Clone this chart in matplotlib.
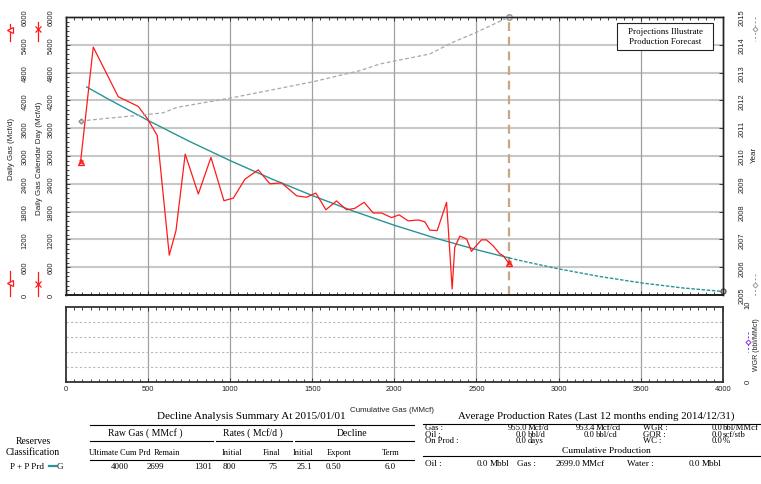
import matplotlib
matplotlib.use("Agg")
import matplotlib.pyplot as plt
import matplotlib.transforms as mtransforms
from matplotlib.lines import Line2D
from matplotlib.patches import Rectangle
from matplotlib.ticker import MultipleLocator

# ---------------- data ----------------
# Daily gas rate history against cumulative gas
cum_gas = [89, 166, 318, 440, 497, 556, 629, 670, 726, 806, 883, 962, 1019, 1090,
           1171, 1242, 1313, 1405, 1465, 1522, 1583, 1648, 1709, 1759, 1816, 1871,
           1922, 1983, 2029, 2084, 2145, 2186, 2216, 2261, 2318, 2334, 2352, 2368,
           2399, 2440, 2470, 2490, 2531, 2561, 2602, 2642, 2662, 2699]
daily_gas = [2880, 5350, 4280, 4070, 3800, 3440, 860, 1390, 3040, 2180, 2970, 2035,
             2090, 2500, 2700, 2400, 2420, 2140, 2110, 2200, 1840, 2030, 1840, 1870,
             2000, 1770, 1770, 1670, 1730, 1600, 1620, 1580, 1400, 1390, 2000, 1140,
             130, 1030, 1270, 1210, 940, 1030, 1190, 1190, 1060, 890, 850, 680]

# Hyperbolic decline: fitted history and forecast to the economic limit
fit_cum = [126, 250, 500, 750, 1000, 1250, 1500, 1750, 2000, 2250, 2500, 2699]
fit_rate = [4490, 4243, 3767, 3319, 2900, 2509, 2146, 1811, 1505, 1228, 978, 800]
fcst_cum = [2699, 2750, 3000, 3250, 3500, 3750, 4000]
fcst_rate = [800, 757, 564, 400, 263, 155, 76]

# Production date against cumulative gas
date_cum = [89, 590, 676, 998, 1504, 1790, 1912, 2216, 2356, 2500, 2699]
date_year = [2011.26, 2011.55, 2011.75, 2012.08, 2012.67, 2013.07, 2013.31,
             2013.67, 2014.09, 2014.45, 2015.0]

forecast_start = 2699

rate_ticks = [0, 600, 1200, 1800, 2400, 3000, 3600, 4200, 4800, 5400, 6000]
year_ticks = [2005, 2006, 2007, 2008, 2009, 2010, 2011, 2012, 2013, 2014, 2015]
cum_ticks = [0, 500, 1000, 1500, 2000, 2500, 3000, 3500, 4000]

# Decline summary table
summary_title = "Decline Analysis Summary At 2015/01/01"
summary_groups = ["Raw Gas ( MMcf )", "Rates ( Mcf/d )", "Decline"]
summary_cols = ["Ultimate", "Cum Prd", "Remain", "Initial", "Final", "Initial", "Expont", "Term"]
summary_vals = ["4000", "2699", "1301", "800", "75", "25.1", "0.50", "6.0"]

# Average rate table
avg_title = "Average Production Rates (Last 12 months ending 2014/12/31)"
avg_rows = [
    ("Gas :", "955.0", "Mcf/d", "953.4", "Mcf/cd", "WGR :", "0.0", "bbl/MMcf"),
    ("Oil :", "0.0", "bbl/d", "0.0", "bbl/cd", "GOR :", "0.0", "scf/stb"),
    ("On Prod :", "0.0", "days", "", "", "WC :", "0.0", "%"),
]
cum_prod = [("Oil :", "0.0", "Mbbl"), ("Gas :", "2699.0", "MMcf"), ("Water :", "0.0", "Mbbl")]

# ---------------- figure ----------------
W, H = 761, 485
SANS = "Liberation Sans"
SERIF = "Liberation Serif"
RED = "#ff1a1a"
TEAL = "#2a9494"
GRAY = "#a8a8a8"

fig = plt.figure(figsize=(W / 100, H / 100), dpi=100)
fig.patch.set_facecolor("white")


def fx(x):
    return x / W


def fy(y):
    return 1 - y / H


def fig_line(xs, ys, **kw):
    fig.add_artist(Line2D([fx(x) for x in xs], [fy(y) for y in ys],
                          transform=fig.transFigure, **kw))


def fig_text(x, y, s, **kw):
    fig.text(fx(x), fy(y), s, **kw)


L, R = 66, 722.7
ax = fig.add_axes([fx(L), fy(296), (R - L) / W, (296 - 18) / H])
ax.set_xlim(0, 4000)
ax.set_ylim(0, 6000)
ax2 = ax.twinx()
ax2.set_ylim(2005, 2015)

# grid of the rate panel
for v in rate_ticks[1:-1]:
    ax.axhline(v, color="#c8c8c8", lw=1.5, zorder=0)
for v in cum_ticks[1:-1]:
    ax.axvline(v, color="#a0a0a0", lw=0.9, zorder=0)

# decline curve
ax.plot(fit_cum, fit_rate, color=TEAL, lw=1.0, zorder=3)
ax.plot(fcst_cum, fcst_rate, color=TEAL, lw=1.0, ls=(0, (2.5, 1.2)), zorder=3)
ax.plot([fcst_cum[-1]], [fcst_rate[-1]], marker="o", ms=3.5, mfc="none",
        mec="#555555", ls="none", clip_on=False, zorder=5)

# rate history
ax.plot(cum_gas, daily_gas, color=RED, lw=0.9, zorder=4)
for i in (0, -1):
    ax.plot([cum_gas[i]], [daily_gas[i]], marker="^", ms=5, mfc="none", mec=RED,
            mew=0.9, ls="none", zorder=5)
    ax.plot([cum_gas[i]], [daily_gas[i]], marker="x", ms=3.5, mec=RED,
            mew=0.8, ls="none", zorder=5)

# forecast start
ax.axvline(forecast_start, color="#c8a882", lw=1.6, ls=(0, (4, 2.6)), zorder=2)

# date line on the year axis
ax2.plot(date_cum, date_year, color=GRAY, lw=0.9, ls=(0, (3, 2)), zorder=3)
ax2.plot([date_cum[0]], [date_year[0]], marker="D", ms=2.5, mfc="none", mec="#888888",
         ls="none")
ax2.plot([date_cum[-1]], [date_year[-1]], marker="o", ms=4, mfc="#d0d0d0", mec="#999999",
         ls="none", clip_on=False)

# ticks and spines
ax.xaxis.set_major_locator(MultipleLocator(500))
ax.xaxis.set_minor_locator(MultipleLocator(50))
ax.yaxis.set_major_locator(MultipleLocator(600))
ax.yaxis.set_minor_locator(MultipleLocator(100))
ax.tick_params(axis="both", which="both", direction="in", top=True, bottom=True,
               left=True, right=False, labelbottom=False, labelleft=False,
               color="#222222", width=0.6)
ax.tick_params(which="major", length=3)
ax.tick_params(which="minor", length=2)
ax2.yaxis.set_major_locator(MultipleLocator(1))
ax2.tick_params(axis="y", which="both", direction="in", right=True, labelright=False,
                length=3, width=0.6, color="#222222")
for a in (ax, ax2):
    for s in a.spines.values():
        s.set_color("#222222")
        s.set_linewidth(1.0)
    a.spines["bottom"].set_linewidth(1.3)

# left rate labels (two scales) and axis titles
tl = mtransforms.blended_transform_factory(fig.transFigure, ax.transData)
for v in rate_ticks:
    for xp in (25, 51):
        ax.text(fx(xp), v, str(v), transform=tl, rotation=90, ha="center", va="center",
                fontsize=5.4, family=SANS, color="#222222")
fig_text(12, 149, "Daily Gas (Mcf/d)", rotation=90, ha="center", va="center",
         fontsize=5.8, family=SANS, color="#222222")
fig_text(39.5, 158, "Daily Gas Calendar Day (Mcf/d)", rotation=90, ha="center",
         va="center", fontsize=5.8, family=SANS, color="#222222")

# series keys beside the scales
for ytop, ybot, ym in ((25, 42, 31), (272, 297, 284)):
    fig_line([10, 10], [ytop, ybot], color=RED, lw=0.9)
    fig_line([10], [ym], marker="<", ms=4, mfc="white", mec=RED, mew=0.9, ls="none")
for ytop, ybot, ym in ((23, 42, 30), (273, 297, 285)):
    fig_line([38, 38], [ytop, ybot], color=RED, lw=0.9)
    fig_line([38], [ym], marker="x", ms=4, mec=RED, mew=0.9, ls="none")

# right year labels
tr = mtransforms.blended_transform_factory(fig.transFigure, ax2.transData)
for y in year_ticks:
    ax2.text(fx(741.7), y, str(y), transform=tr, rotation=90, ha="center", va="center",
             fontsize=5.4, family=SANS, color="#222222")
fig_text(754.5, 155, "Year", rotation=90, ha="center", va="center", fontsize=5.8,
         family=SANS, color="#222222")
for ytop, ybot, ym in ((18, 42, 30), (275, 297, 286)):
    fig_line([755, 755], [ytop, ybot], color="#999999", lw=0.7, ls=(0, (2, 2)))
    fig_line([755], [ym], marker="D", ms=2.5, mfc="white", mec="#999999", mew=0.7,
             ls="none")

# annotation box
fig.add_artist(Rectangle((fx(617), fy(50.7)), (713 - 617) / W, (50.7 - 24) / H,
                         transform=fig.transFigure, facecolor="white",
                         edgecolor="#222222", lw=0.8, zorder=3))
fig_text(665, 31.5, "Projections Illustrate", ha="center", va="center", fontsize=6.4,
         family=SERIF, zorder=4)
fig_text(665, 42.5, "Production Forecast", ha="center", va="center", fontsize=6.4,
         family=SERIF, zorder=4)

# ---------------- ratio panel ----------------
axl = fig.add_axes([fx(L), fy(383), (R - L) / W, (383 - 308) / H])
axl.set_xlim(0, 4000)
axl.set_ylim(0, 10)
for v in cum_ticks[1:-1]:
    axl.axvline(v, color="#a0a0a0", lw=0.9, zorder=0)
for v in (2, 4, 6, 8):
    axl.axhline(v, color="#b8b8b8", lw=0.8, ls=(0, (2, 2)), zorder=0)
axl.set_xticks(cum_ticks)
axl.set_xticklabels([str(v) for v in cum_ticks], fontsize=5.4, family=SANS,
                    color="#222222")
axl.xaxis.set_minor_locator(MultipleLocator(50))
axl.set_yticks([])
axl.tick_params(axis="x", which="both", direction="in", top=True, bottom=True,
                color="#222222", width=0.6, pad=2.5)
axl.tick_params(axis="x", which="major", length=3)
axl.tick_params(axis="x", which="minor", length=2)
for s in axl.spines.values():
    s.set_color("#333333")
    s.set_linewidth(1.3)

fig_text(748, 305, "10", rotation=90, ha="center", va="center", fontsize=5.4,
         family=SANS, color="#222222")
fig_text(748, 382, "0", rotation=90, ha="center", va="center", fontsize=5.4,
         family=SANS, color="#222222")
fig_line([748, 748], [333, 353], color="#8a2be2", lw=0.7, ls=(0, (2, 2)))
fig_line([748], [343], marker="D", ms=2.5, mfc="white", mec="#8a2be2", mew=0.7, ls="none")
fig_text(757, 345, "WGR (bbl/MMcf)", rotation=90, ha="center", va="center",
         fontsize=5.0, family=SANS, color="#222222")

fig_text(392, 411, "Cumulative Gas (MMcf)", ha="center", va="center", fontsize=5.8,
         family=SANS, color="#222222")

# ---------------- decline summary table ----------------
tk = dict(family=SERIF, color="black", va="center")
fig_text(251, 416.5, summary_title, ha="center", fontsize=8, **tk)
fig_line([90, 414], [425.5, 425.5], color="black", lw=0.8)
for label, xc in zip(summary_groups, (145, 253, 352)):
    fig_text(xc, 433.5, label, ha="center", fontsize=7, **tk)
for x0, x1 in ((90, 213), (216, 292), (295, 414)):
    fig_line([x0, x1], [441.5, 441.5], color="black", lw=0.8)
fig_text(33, 442, "Reserves", ha="center", fontsize=7, **tk)
fig_text(33, 453, "Classification", ha="center", fontsize=7, **tk)
for label, xc in zip(summary_cols, (104, 135, 167, 232, 272, 303, 339, 391)):
    fig_text(xc, 453.5, label, ha="center", fontsize=6.1, **tk)
fig_line([90, 414], [461, 461], color="black", lw=0.8)

fig_text(10, 467, "P + P Prd", ha="left", fontsize=6.6, **tk)
fig_line([48.5, 56], [467, 467], color=TEAL, lw=1.6)
fig_text(57, 467, "G", ha="left", fontsize=6.6, **tk)
val_pos = [(129, "right"), (164, "right"), (212, "right"), (229, "center"),
           (273, "center"), (304, "center"), (333, "center"), (390, "center")]
for v, (xp, ha) in zip(summary_vals, val_pos):
    fig_text(xp, 467, v, ha=ha, fontsize=6.4, **tk)

# ---------------- average rates table ----------------
fs = 6.2
fig_text(596, 416.5, avg_title, ha="center", fontsize=7.8, **tk)
fig_line([423, 761], [424.5, 424.5], color="black", lw=0.8)
for row, yp in zip(avg_rows, (428.3, 434.9, 441.4)):
    name, v1, u1, v2, u2, name2, v3, u3 = row
    fig_text(425, yp, name, ha="left", fontsize=fs, **tk)
    fig_text(527, yp, v1, ha="right", fontsize=fs, **tk)
    fig_text(528, yp, u1, ha="left", fontsize=fs, **tk)
    if v2:
        fig_text(595, yp, v2, ha="right", fontsize=fs, **tk)
        fig_text(596, yp, u2, ha="left", fontsize=fs, **tk)
    fig_text(643, yp, name2, ha="left", fontsize=fs, **tk)
    fig_text(722, yp, v3, ha="right", fontsize=fs, **tk)
    fig_text(723, yp, u3, ha="left", fontsize=fs, **tk)
fig_text(606, 451, "Cumulative Production", ha="center", fontsize=6.8, **tk)
fig_line([423, 761], [457, 457], color="black", lw=0.8)
for (name, v, u), xn, xv in zip(cum_prod, (425, 517, 627), (488, 580, 700)):
    fig_text(xn, 464, name, ha="left", fontsize=6.6, **tk)
    fig_text(xv, 464, v, ha="right", fontsize=6.6, **tk)
    fig_text(xv + 1.5, 464, u, ha="left", fontsize=6.6, **tk)

fig.savefig("out.png", dpi=100)
